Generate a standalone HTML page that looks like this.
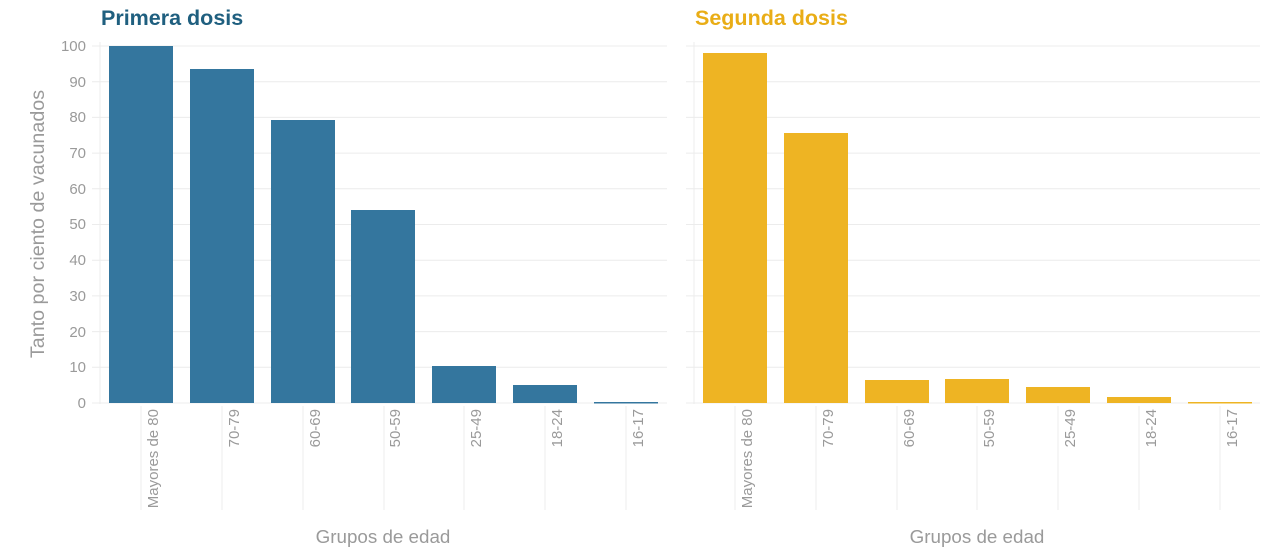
<!DOCTYPE html>
<html><head><meta charset="utf-8"><style>
body{margin:0;background:#fff;}
svg{display:block;font-family:"Liberation Sans",sans-serif;}
.t{fill:#9a9a9a;font-size:15px;}
.g{stroke:#ececec;stroke-width:1;}
</style></head><body>
<svg width="1280" height="548" viewBox="0 0 1280 548">
<text x="101" y="25" font-size="21.5" font-weight="bold" fill="#1f5f7f">Primera dosis</text>
<text x="695" y="25" font-size="21.5" font-weight="bold" fill="#e9ad16">Segunda dosis</text>
<text class="t" style="font-size:19.7px" transform="translate(44,224) rotate(-90)" text-anchor="middle">Tanto por ciento de vacunados</text>
<g id="grid">
<line class="g" x1="92" y1="46" x2="667" y2="46"/><line class="g" x1="92" y1="81.7" x2="667" y2="81.7"/>
<line class="g" x1="92" y1="117.4" x2="667" y2="117.4"/><line class="g" x1="92" y1="153.1" x2="667" y2="153.1"/>
<line class="g" x1="92" y1="188.8" x2="667" y2="188.8"/><line class="g" x1="92" y1="224.5" x2="667" y2="224.5"/>
<line class="g" x1="92" y1="260.2" x2="667" y2="260.2"/><line class="g" x1="92" y1="295.9" x2="667" y2="295.9"/>
<line class="g" x1="92" y1="331.6" x2="667" y2="331.6"/><line class="g" x1="92" y1="367.3" x2="667" y2="367.3"/>
<line class="g" x1="92" y1="403" x2="667" y2="403"/>
<line class="g" x1="686" y1="46" x2="1260" y2="46"/><line class="g" x1="686" y1="81.7" x2="1260" y2="81.7"/>
<line class="g" x1="686" y1="117.4" x2="1260" y2="117.4"/><line class="g" x1="686" y1="153.1" x2="1260" y2="153.1"/>
<line class="g" x1="686" y1="188.8" x2="1260" y2="188.8"/><line class="g" x1="686" y1="224.5" x2="1260" y2="224.5"/>
<line class="g" x1="686" y1="260.2" x2="1260" y2="260.2"/><line class="g" x1="686" y1="295.9" x2="1260" y2="295.9"/>
<line class="g" x1="686" y1="331.6" x2="1260" y2="331.6"/><line class="g" x1="686" y1="367.3" x2="1260" y2="367.3"/>
<line class="g" x1="686" y1="403" x2="1260" y2="403"/>
<line class="g" x1="100" y1="42" x2="100" y2="404"/><line class="g" x1="694" y1="42" x2="694" y2="404"/>
</g>
<g class="t" text-anchor="end">
<text x="86" y="51">100</text><text x="86" y="87">90</text><text x="86" y="122">80</text><text x="86" y="158">70</text>
<text x="86" y="194">60</text><text x="86" y="229">50</text><text x="86" y="265">40</text><text x="86" y="301">30</text>
<text x="86" y="337">20</text><text x="86" y="372">10</text><text x="86" y="408">0</text>
</g>
<g fill="#34769e">
<rect x="109" y="46" width="64" height="357"/><rect x="190" y="69" width="64" height="334"/>
<rect x="271" y="120" width="64" height="283"/><rect x="351" y="210" width="64" height="193"/>
<rect x="432" y="366" width="64" height="37"/><rect x="513" y="385" width="64" height="18"/>
<rect x="594" y="402" width="64" height="1.5"/>
</g>
<g fill="#eeb423">
<rect x="703" y="53" width="64" height="350"/><rect x="784" y="133" width="64" height="270"/>
<rect x="865" y="380" width="64" height="23"/><rect x="945" y="379" width="64" height="24"/>
<rect x="1026" y="387" width="64" height="16"/><rect x="1107" y="397" width="64" height="6"/>
<rect x="1188" y="402" width="64" height="1.5"/>
</g>
<g class="g">
<line x1="141" y1="406" x2="141" y2="510"/><line x1="222" y1="406" x2="222" y2="510"/><line x1="303" y1="406" x2="303" y2="510"/>
<line x1="384" y1="406" x2="384" y2="510"/><line x1="464" y1="406" x2="464" y2="510"/><line x1="545" y1="406" x2="545" y2="510"/>
<line x1="626" y1="406" x2="626" y2="510"/>
<line x1="735" y1="406" x2="735" y2="510"/><line x1="816" y1="406" x2="816" y2="510"/><line x1="897" y1="406" x2="897" y2="510"/>
<line x1="977" y1="406" x2="977" y2="510"/><line x1="1058" y1="406" x2="1058" y2="510"/><line x1="1139" y1="406" x2="1139" y2="510"/>
<line x1="1220" y1="406" x2="1220" y2="510"/>
</g>
<g class="t" text-anchor="end">
<text transform="translate(158,409) rotate(-90)">Mayores de 80</text>
<text transform="translate(239,409) rotate(-90)">70-79</text>
<text transform="translate(320,409) rotate(-90)">60-69</text>
<text transform="translate(400,409) rotate(-90)">50-59</text>
<text transform="translate(481,409) rotate(-90)">25-49</text>
<text transform="translate(562,409) rotate(-90)">18-24</text>
<text transform="translate(643,409) rotate(-90)">16-17</text>
<text transform="translate(752,409) rotate(-90)">Mayores de 80</text>
<text transform="translate(833,409) rotate(-90)">70-79</text>
<text transform="translate(914,409) rotate(-90)">60-69</text>
<text transform="translate(994,409) rotate(-90)">50-59</text>
<text transform="translate(1075,409) rotate(-90)">25-49</text>
<text transform="translate(1156,409) rotate(-90)">18-24</text>
<text transform="translate(1237,409) rotate(-90)">16-17</text>
</g>
<text class="t" style="font-size:18.8px" x="383" y="543" text-anchor="middle">Grupos de edad</text>
<text class="t" style="font-size:18.8px" x="977" y="543" text-anchor="middle">Grupos de edad</text>
</svg>
</body></html>
